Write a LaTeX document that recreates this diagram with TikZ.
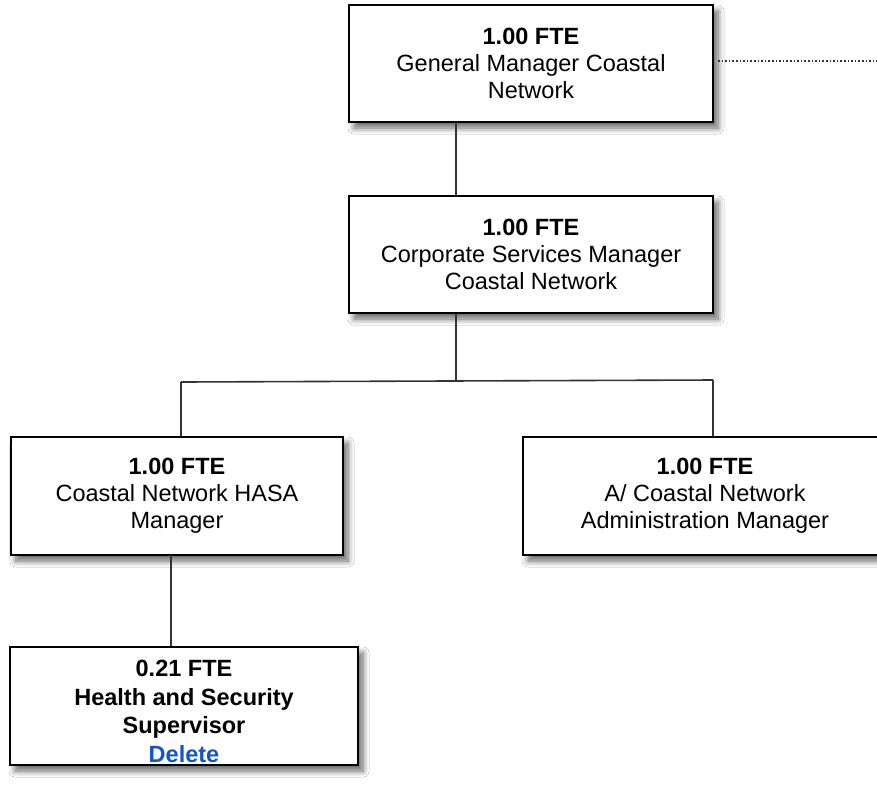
\documentclass[tikz,border=0pt]{standalone}
\usepackage{fontspec}
\setmainfont{Liberation Sans}
\usetikzlibrary{shadows.blur}
\definecolor{linegrey}{HTML}{333333}
\definecolor{deleteblue}{HTML}{1155CC}
\tikzset{
  orgbox/.style={draw=black, line width=2pt, fill=white, align=center,
    inner sep=0pt, font=\fontsize{23.5}{27}\selectfont,
    blur shadow={shadow xshift=5pt, shadow yshift=-6pt, shadow blur steps=8,
      shadow blur extra rounding=0pt, shadow opacity=60, shadow blur radius=6pt}},
  link/.style={draw=linegrey, line width=1.6pt},
  dotlink/.style={draw=linegrey, line width=1.6pt, dotted}
}
\begin{document}
\begin{tikzpicture}[x=1pt,y=-1pt]
\useasboundingbox (0,0) rectangle (877,788);
\clip (0,0) rectangle (877,788);
\fill[white] (0,0) rectangle (877,788);
\node[orgbox, minimum width=364pt, minimum height=117pt] (gm) at (531,63.5)
  {\textbf{1.00 FTE}\\General Manager Coastal\\Network};
\node[orgbox, minimum width=364pt, minimum height=117pt] (csm) at (531,254.5)
  {\textbf{1.00 FTE}\\Corporate Services Manager\\Coastal Network};
\node[orgbox, minimum width=332pt, minimum height=118pt] (hasa) at (177,496)
  {\textbf{1.00 FTE}\\Coastal Network HASA\\Manager};
\node[orgbox, minimum width=364pt, minimum height=118pt] (adm) at (705,496)
  {\textbf{1.00 FTE}\\A/ Coastal Network\\Administration Manager};
\node[orgbox, minimum width=348pt, minimum height=118pt,
  font=\fontsize{23.5}{28.5}\selectfont] (hss) at (184,706)
  {\rule{0pt}{27pt}\textbf{0.21 FTE}\\\textbf{Health and Security}\\\textbf{Supervisor}\\\textcolor{deleteblue}{\textbf{Delete}}};
\coordinate (gmdown) at (456,122);
\coordinate (dotend) at (877,61);
\coordinate (junc) at (456,381);
\coordinate (jl) at (181,382);
\coordinate (jr) at (713,380);
\coordinate (hasadown) at (171,555);
\draw[dotlink] (gm.east |- dotend) ++(4,0) -- (dotend);
\draw[link] (gmdown) -- (gmdown |- csm.north);
\draw[link] (gmdown |- csm.south) -- (junc);
\draw[link] (jl) -- (jr);
\draw[link] (jl) -- (jl |- hasa.north);
\draw[link] (jr) -- (jr |- adm.north);
\draw[link] (hasadown) -- (hasadown |- hss.north);
\end{tikzpicture}
\end{document}
